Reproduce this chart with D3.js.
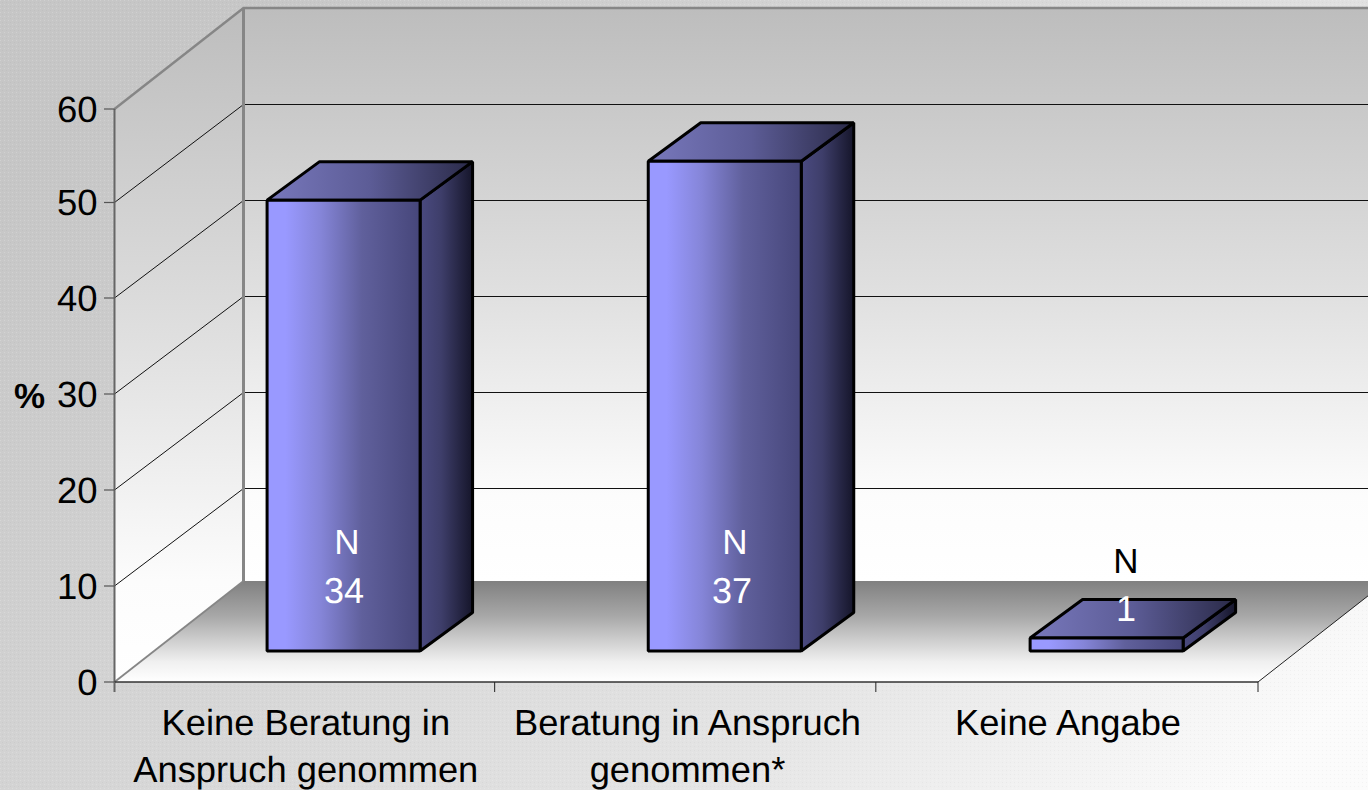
<!DOCTYPE html>
<html><head><meta charset="utf-8">
<style>html,body{margin:0;padding:0;background:#ddd}svg{display:block}text{font-family:"Liberation Sans",Arial,sans-serif;text-rendering:geometricPrecision}</style>
<script src="https://cdn.jsdelivr.net/npm/d3@7"></script></head><body>
<svg id="c" width="1368" height="790"></svg>
<script>
const categories = [["Keine Beratung in","Anspruch genommen"],["Beratung in Anspruch","genommen*"],["Keine Angabe"]];
const percentValues = [47, 51.1, 1.35];
const counts = [34, 37, 1];
const yTicks = [0,10,20,30,40,50,60];

const W=1368,H=790;
const svg=d3.select("#c");
const defs=svg.append("defs");
function grad(id,stops,x1,y1,x2,y2){
  const g=defs.append("linearGradient").attr("id",id).attr("x1",x1).attr("y1",y1).attr("x2",x2).attr("y2",y2);
  stops.forEach(s=>g.append("stop").attr("offset",s[0]).attr("stop-color",s[1]));
}
grad("bg",[[0,"#c6c6c6"],[0.35,"#d4d4d4"],[0.7,"#e4e4e4"],[1,"#fbfbfb"]],0,0.25,1,0.85);
grad("wall",[[0,"#bdbdbd"],[0.5,"#e0e0e0"],[0.85,"#fcfcfc"],[1,"#ffffff"]],0,0,0,1);
grad("floor",[[0,"#808080"],[0.35,"#a8a8a8"],[0.8,"#f0f0f0"],[1,"#ffffff"]],0,0,0,1);
grad("front",[[0,"#9999ff"],[0.12,"#9999ff"],[0.35,"#8585d8"],[0.62,"#60609c"],[1,"#46467a"]],0,0,1,0);
grad("top",[[0,"#7878bc"],[0.5,"#5c5c96"],[1,"#2a2a48"]],0,0,1,0);
grad("side",[[0,"#4a4a80"],[0.4,"#3e3e6a"],[1,"#15152a"]],0,0,1,0);

const pat=defs.append("pattern").attr("id","stip").attr("width",4).attr("height",4).attr("patternUnits","userSpaceOnUse");
pat.append("rect").attr("x",0).attr("y",0).attr("width",1).attr("height",1).attr("fill","#fff").attr("opacity",.18);
pat.append("rect").attr("x",2).attr("y",2).attr("width",1).attr("height",1).attr("fill","#000").attr("opacity",.03);

svg.append("rect").attr("width",W).attr("height",H).attr("fill","url(#bg)");
svg.append("rect").attr("width",W).attr("height",H).attr("fill","url(#stip)");

// front-plane value scale and category scale
const y=d3.scaleLinear().domain(yTicks).range([682,586,490,394,298,202.5,109]);
const x=d3.scaleBand().domain(d3.range(categories.length)).range([114.5,1258]);
const DX=129, DY=-101, GDY=-98;       // chart depth
const line=d3.line();

// walls
svg.append("polygon").attr("points",[[114.5,y(0)],[114.5,y(60)],[114.5+DX,y(60)+DY],[114.5+DX,y(0)+DY]].join(" ")).attr("fill","url(#wall)");
svg.append("rect").attr("x",114.5+DX).attr("y",y(60)+DY).attr("width",W-114.5-DX).attr("height",y(0)-y(60)).attr("fill","url(#wall)");
svg.append("polygon").attr("points",[[114.5,y(0)],[1258,y(0)],[1258+DX,y(0)+DY],[114.5+DX,y(0)+DY]].join(" ")).attr("fill","url(#floor)");

// gridlines
yTicks.filter(t=>t>0&&t<60).forEach(t=>{
  const by=Math.floor(y(t)+GDY)+0.5;
  svg.append("path").attr("d",line([[114.5,y(t)],[114.5+DX,by]])).attr("fill","none").attr("stroke","#111").attr("stroke-width",1);
  svg.append("path").attr("d",line([[114.5+DX,by],[W,by]])).attr("fill","none").attr("stroke","#111").attr("stroke-width",1);
});
// frame edges
svg.append("path").attr("d",line([[114.5,y(60)],[114.5+DX,y(60)+DY],[W,y(60)+DY]])).attr("fill","none").attr("stroke","#868686").attr("stroke-width",2.4);
svg.append("path").attr("d",line([[114.5+DX,y(60)+DY],[114.5+DX,y(0)+DY]])).attr("fill","none").attr("stroke","#868686").attr("stroke-width",3);
svg.append("path").attr("d",line([[114.5,y(0)],[114.5+DX,y(0)+DY]])).attr("fill","none").attr("stroke","#868686").attr("stroke-width",1.8);
svg.append("path").attr("d",line([[1258,y(0)],[1258+DX,y(0)+DY]])).attr("fill","none").attr("stroke","#222").attr("stroke-width",1);

// axes
svg.append("path").attr("d",line([[114.5,y(60)],[114.5,y(0)+10]])).attr("fill","none").attr("stroke","#666").attr("stroke-width",2);
svg.append("path").attr("d",line([[114.5,y(0)],[1258,y(0)]])).attr("fill","none").attr("stroke","#333").attr("stroke-width",1.5);
yTicks.forEach(t=>{
  svg.append("line").attr("x1",104).attr("x2",114.5).attr("y1",y(t)).attr("y2",y(t)).attr("stroke","#555").attr("stroke-width",1.2);
  svg.append("text").attr("x",97.5).attr("y",y(t)+12.5).attr("text-anchor","end").attr("font-size",36.5).attr("fill","#000").text(t);
});
[0,1,2,3].forEach(i=>{
  const px=i<3?x(i):x(2)+x.bandwidth();
  svg.append("line").attr("x1",px-(i==1||i==2?1:0)).attr("x2",px-(i==1||i==2?1:0)).attr("y1",y(0)).attr("y2",y(0)+10).attr("stroke",i==0?"#666":"#222").attr("stroke-width",1);
});
svg.append("text").attr("x",29.5).attr("y",408).attr("text-anchor","middle").attr("font-size",35).attr("font-weight","bold").text("%");

// bars
const barW=153, inset=39.5, baseY=651, bdx=52.5, bdy=-38.5;
const h=v=>y(0)-y(v);
percentValues.forEach((v,i)=>{
  const x0=x(i)+x.bandwidth()/2-barW/2+inset-1+(i==2?0.7:0), x1=x0+barW, yb=baseY, yt=baseY-h(v);
  const g=svg.append("g").attr("stroke","#000").attr("stroke-width",3).attr("stroke-linejoin","bevel");
  g.append("polygon").attr("points",[[x1,yt],[x1+bdx,yt+bdy],[x1+bdx,yb+bdy],[x1,yb]].join(" ")).attr("fill","url(#side)");
  g.append("polygon").attr("points",[[x0,yt],[x0+bdx,yt+bdy],[x1+bdx,yt+bdy],[x1,yt]].join(" ")).attr("fill","url(#top)");
  g.append("rect").attr("x",x0).attr("y",yt).attr("width",barW).attr("height",yb-yt).attr("fill","url(#front)");
});

// N annotations
const nPos=[[347,344],[735,732],[1126,1126]];
counts.forEach((c,i)=>{
  svg.append("text").attr("x",nPos[i][0]).attr("y",i==2?572.5:554).attr("text-anchor","middle").attr("font-size",35).attr("fill",i==2?"#000":"#fff").text("N");
  svg.append("text").attr("x",nPos[i][1]).attr("y",i==2?621:603).attr("text-anchor","middle").attr("font-size",36).attr("fill","#fff").text(c);
});

// category labels
const labelX=[305.8,687.5,1068];
categories.forEach((ls,i)=>ls.forEach((l,j)=>{
  svg.append("text").attr("x",labelX[i]).attr("y",735+j*47).attr("text-anchor","middle").attr("font-size",36.3).attr("fill","#000").text(l);
}));
</script></body></html>
